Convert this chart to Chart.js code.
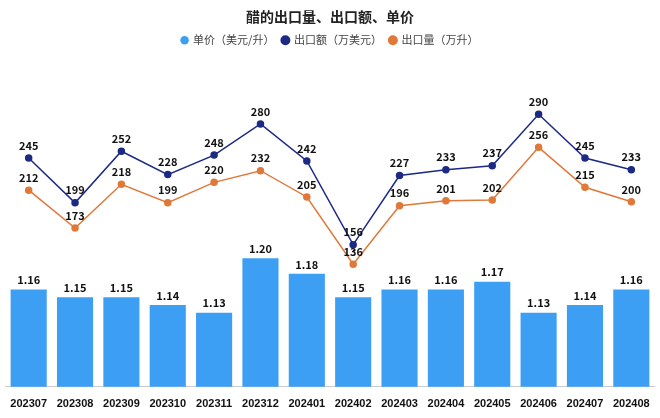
<!DOCTYPE html>
<html><head><meta charset="utf-8">
<script src="https://cdn.jsdelivr.net/npm/chart.js@4"></script>
<style>body{margin:0;background:#fff}#wrap{width:660px;height:418px}</style>
</head><body><div id="wrap"><canvas id="c"></canvas></div>
<script>
const months = ["202307","202308","202309","202310","202311","202312","202401","202402","202403","202404","202405","202406","202407","202408"];
const unitPrice = [1.16,1.15,1.15,1.14,1.13,1.20,1.18,1.15,1.16,1.16,1.17,1.13,1.14,1.16];
const exportValue = [245,199,252,228,248,280,242,156,227,233,237,290,245,233];
const exportVolume = [212,173,218,199,220,232,205,136,196,201,202,256,215,200];

const labelPlugin = {
  id: "labels",
  afterDatasetsDraw(chart) {
    const ctx = chart.ctx;
    ctx.save();
    ctx.font = "bold 11px 'Noto Sans CJK SC', sans-serif";
    ctx.fillStyle = "#111";
    ctx.textAlign = "center";
    ctx.textBaseline = "bottom";
    chart.data.datasets.forEach((ds, i) => {
      chart.getDatasetMeta(i).data.forEach((el, j) => {
        const v = ds.data[j];
        const txt = ds.type === "bar" ? v.toFixed(2) : String(v);
        ctx.fillText(txt, el.x, el.y - (ds.type === "bar" ? 4 : 7));
      });
    });
    ctx.restore();
  }
};

new Chart(document.getElementById("c"), {
  data: {
    labels: months,
    datasets: [
      { type: "bar", label: "单价（美元/升）", data: unitPrice, yAxisID: "yb",
        backgroundColor: "#3d9ff3", barPercentage: 0.95, categoryPercentage: 0.82, order: 3 },
      { type: "line", label: "出口额（万美元）", data: exportValue, yAxisID: "yl",
        borderColor: "#1c2a86", backgroundColor: "#1c2a86", borderWidth: 1.5, pointRadius: 3, order: 1 },
      { type: "line", label: "出口量（万升）", data: exportVolume, yAxisID: "yl",
        borderColor: "#e0783a", backgroundColor: "#e0783a", borderWidth: 1.5, pointRadius: 3, order: 2 }
    ]
  },
  options: {
    responsive: true, maintainAspectRatio: false, animation: false,
    layout: { padding: { left: 4, right: 4, top: 0, bottom: 4 } },
    plugins: {
      title: { display: true, text: "醋的出口量、出口额、单价", color: "#222",
        font: { size: 14, weight: "bold", family: "'Noto Sans CJK SC'" }, padding: { top: 8, bottom: 2 } },
      legend: { labels: { usePointStyle: true, pointStyle: "circle", boxWidth: 6, boxHeight: 6,
        sort: (a, b) => a.datasetIndex - b.datasetIndex,
        color: "#444", font: { size: 11, family: "'Noto Sans CJK SC'" }, padding: 8 } },
      tooltip: { enabled: false }
    },
    scales: {
      x: { grid: { display: false }, border: { color: "#ccc" },
        ticks: { color: "#111", font: { size: 11, weight: "bold" }, maxRotation: 0, autoSkip: false } },
      yb: { display: false, min: 1.035, max: 1.46 },
      yl: { display: false, min: 10, max: 350 }
    }
  },
  plugins: [labelPlugin]
});
</script></body></html>
